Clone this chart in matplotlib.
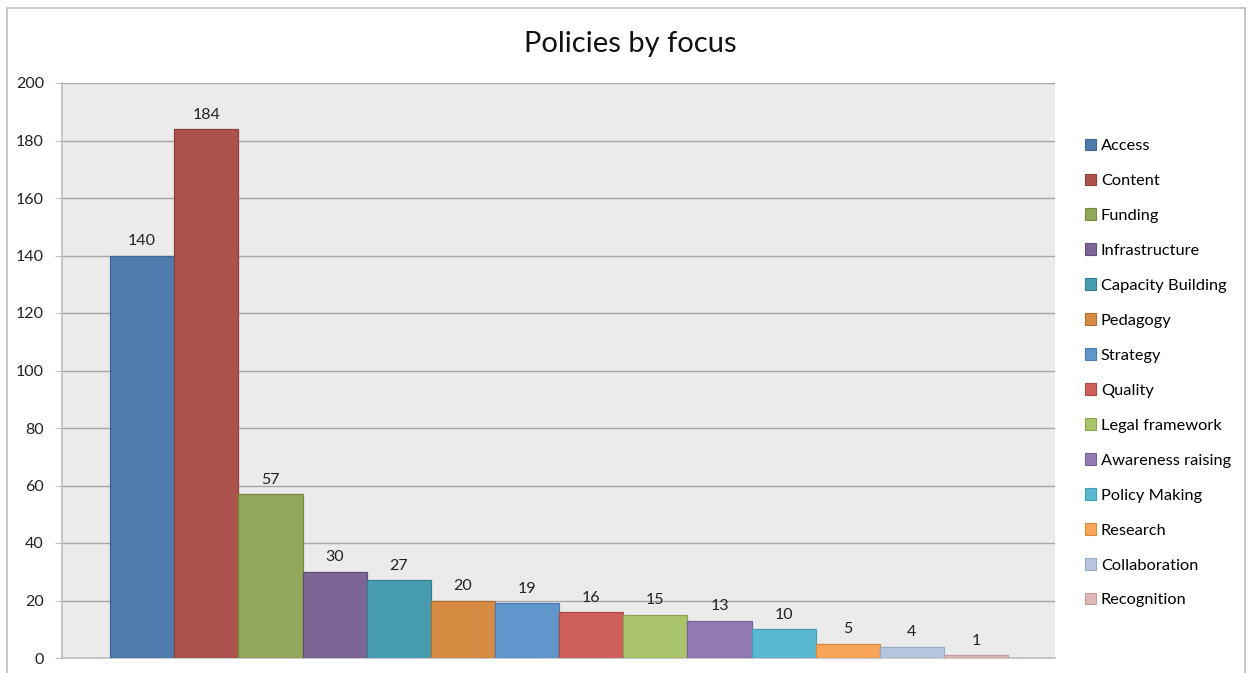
import matplotlib.pyplot as plt
from matplotlib.patches import Rectangle, Patch

plt.rcParams['font.family'] = ['Lato', 'DejaVu Sans']

categories = ["Access", "Content", "Funding", "Infrastructure", "Capacity Building",
              "Pedagogy", "Strategy", "Quality", "Legal framework", "Awareness raising",
              "Policy Making", "Research", "Collaboration", "Recognition"]
counts = [140, 184, 57, 30, 27, 20, 19, 16, 15, 13, 10, 5, 4, 1]
colors = ["#4F7BAD", "#AD534E", "#91A75A", "#7D6596", "#479DAF", "#D68B43", "#5F96CC",
          "#CF5F5B", "#A9C46B", "#9179B1", "#5BB8D2", "#F8A55A", "#B6C6DF", "#DEB6B6"]
edges = ["#3F6590", "#8E3F3B", "#76893F", "#634C7B", "#347F90", "#B06E30", "#4A7DAE",
         "#AD4743", "#8AA552", "#766095", "#41A0BA", "#D8873C", "#98A9C4", "#C49A9A"]

fig = plt.figure(figsize=(12.48, 6.73), dpi=100)
fig.patches.append(Rectangle((7 / 1248, -0.05), 1238 / 1248, 1 - 8 / 673 + 0.05,
                             transform=fig.transFigure, fill=False,
                             edgecolor="#BDBDBD", linewidth=1.2))

ax = fig.add_axes([62 / 1248, 1 - 658 / 673, 993 / 1248, 575 / 673])
ax.set_facecolor("#EBEBEB")

x = range(len(counts))
ax.bar(x, counts, width=1.0, color=colors, edgecolor=edges, linewidth=0.9, zorder=3)
for xi, v in zip(x, counts):
    ax.text(xi, v + 2.6, str(v), ha="center", va="bottom", fontsize=11.5, color="#222222", zorder=4)

ax.set_xlim(-1.25, 14.23)
ax.set_ylim(0, 200)
ax.set_yticks(range(0, 201, 20))
ax.set_xticks([])
ax.grid(axis="y", color="#A6A6A6", linewidth=1.0, zorder=1)
for s in ["top", "right"]:
    ax.spines[s].set_visible(False)
ax.spines["left"].set_color("#BDBDBD")
ax.spines["bottom"].set_color("#BDBDBD")
ax.spines["left"].set_linewidth(1.2)
ax.spines["bottom"].set_linewidth(1.2)
ax.tick_params(axis="y", length=5, color="#BDBDBD", labelsize=11.5, labelcolor="#222222", pad=8)

fig.text(630 / 1248, 1 - 44 / 673, "Policies by focus", ha="center", va="center",
         fontsize=21, color="#111111")

handles = [Patch(facecolor=c, edgecolor=e, linewidth=0.8) for c, e in zip(colors, edges)]
fig.legend(handles, categories, loc="upper left", bbox_to_anchor=(1078 / 1248, 1 - 132 / 673),
           frameon=False, fontsize=11.8, handlelength=0.7, handleheight=0.7,
           handletextpad=0.3, labelspacing=1.25, borderaxespad=0)

fig.savefig("out.png", dpi=100)
